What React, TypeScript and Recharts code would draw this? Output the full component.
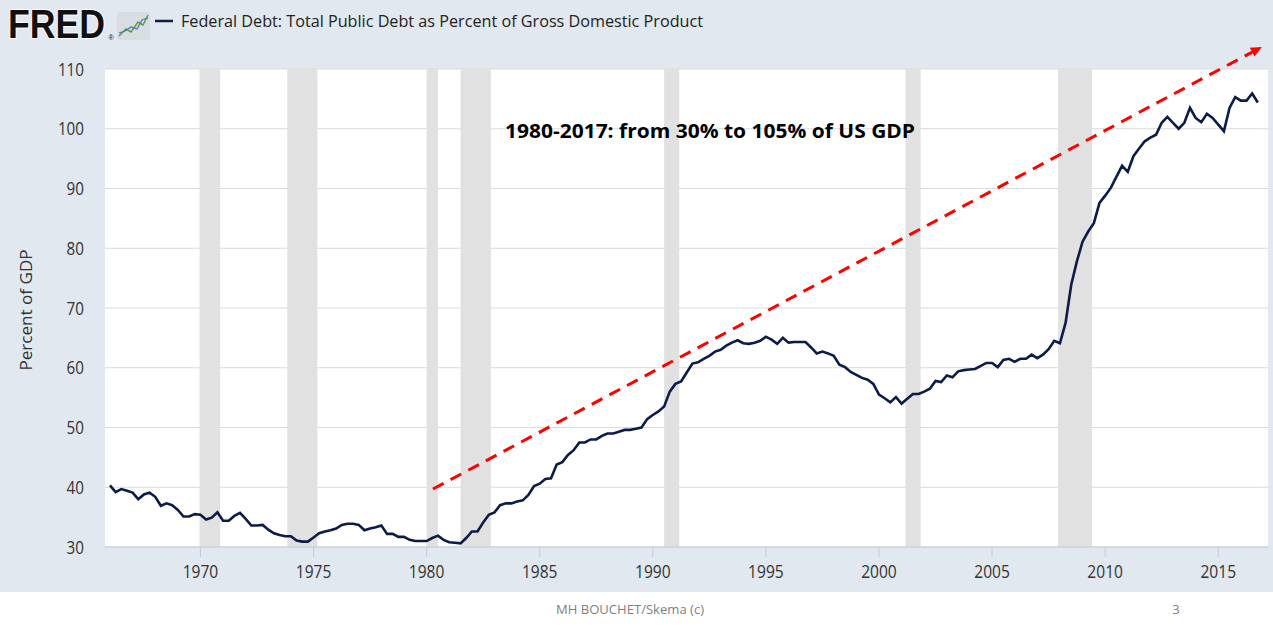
import {
  LineChart,
  Line,
  XAxis,
  YAxis,
  CartesianGrid,
  ReferenceArea,
  ReferenceLine,
} from "recharts";

// Federal debt as % of GDP, quarterly, 1966 Q1 onward
const firstYear = 1966;
const debtPct: number[] = [
  40.3, 39.2, 39.7, 39.4, // 1966
  39.1, 38.0, 38.8, 39.1, // 1967
  38.4, 36.9, 37.3, 37.0, // 1968
  36.2, 35.1, 35.1, 35.5, // 1969
  35.4, 34.6, 34.9, 35.8, // 1970
  34.4, 34.4, 35.2, 35.7, // 1971
  34.7, 33.6, 33.6, 33.7, // 1972
  32.9, 32.3, 32.0, 31.8, // 1973
  31.8, 31.1, 30.9, 30.9, // 1974
  31.6, 32.3, 32.6, 32.8, // 1975
  33.1, 33.7, 33.9, 33.9, // 1976
  33.7, 32.8, 33.1, 33.3, // 1977
  33.6, 32.2, 32.2, 31.7, // 1978
  31.7, 31.2, 31.0, 31.0, // 1979
  31.0, 31.5, 31.9, 31.2, // 1980
  30.8, 30.7, 30.6, 31.5, // 1981
  32.6, 32.6, 34.1, 35.4, // 1982
  35.8, 37.0, 37.3, 37.3, // 1983
  37.6, 37.8, 38.7, 40.2, // 1984
  40.6, 41.4, 41.5, 43.8, // 1985
  44.2, 45.4, 46.2, 47.5, // 1986
  47.5, 48.0, 48.0, 48.6, // 1987
  49.0, 49.0, 49.3, 49.6, // 1988
  49.6, 49.8, 50.0, 51.4, // 1989
  52.1, 52.7, 53.5, 56.0, // 1990
  57.3, 57.7, 59.2, 60.7, // 1991
  60.9, 61.5, 62.0, 62.7, // 1992
  63.0, 63.7, 64.2, 64.6, // 1993
  64.1, 64.0, 64.2, 64.5, // 1994
  65.2, 64.7, 64.0, 65.0, // 1995
  64.2, 64.3, 64.3, 64.3, // 1996
  63.4, 62.4, 62.7, 62.4, // 1997
  62.0, 60.5, 60.1, 59.3, // 1998
  58.8, 58.3, 58.0, 57.3, // 1999
  55.5, 54.9, 54.2, 55.1, // 2000
  54.0, 54.8, 55.6, 55.6, // 2001
  56.0, 56.5, 57.8, 57.6, // 2002
  58.7, 58.4, 59.4, 59.6, // 2003
  59.7, 59.8, 60.3, 60.8, // 2004
  60.8, 60.1, 61.3, 61.5, // 2005
  61.0, 61.5, 61.5, 62.2, // 2006
  61.6, 62.2, 63.1, 64.5, // 2007
  64.1, 67.5, 73.9, 77.8, // 2008
  81.1, 82.8, 84.2, 87.6, // 2009
  88.8, 90.1, 92.0, 93.8, // 2010
  92.8, 95.4, 96.7, 97.9, // 2011
  98.5, 99.0, 101.0, 102.0, // 2012
  101.0, 100.0, 101.0, 103.5, // 2013
  101.8, 101.1, 102.5, 101.8, // 2014
  100.7, 99.6, 103.5, 105.3, // 2015
  104.7, 104.7, 105.9, 104.4, // 2016
];

// NBER recessions (shaded), as fractional years
const recessionStart = [1969.96, 1973.84, 1980.0, 1981.5, 1990.5, 2001.17, 2007.92];
const recessionEnd = [1970.87, 1975.17, 1980.5, 1982.84, 1991.17, 2001.84, 2009.42];

const xTicks = [1970, 1975, 1980, 1985, 1990, 1995, 2000, 2005, 2010, 2015];
const yTicks = [30, 40, 50, 60, 70, 80, 90, 100, 110];

// hand-drawn trend arrow on the slide
const trendFrom = { year: 1980.28, pct: 39.7 };
const trendTo = { year: 2016.93, pct: 113.7 };

const chartData = debtPct.map((v, i) => ({ t: firstYear + i / 4, debt: v }));

const FONT = "'Open Sans', 'Noto Sans', sans-serif";

const XTick = ({ x, payload }: any) => (
  <text
    x={x}
    y={578}
    textAnchor="middle"
    fontSize={18}
    fill="#333"
    fontFamily={FONT}
    textLength={String(payload.value).length * 8.9}
    lengthAdjust="spacingAndGlyphs"
  >
    {payload.value}
  </text>
);

const YTick = ({ y, payload }: any) => (
  <text
    x={84}
    y={y + 6.5}
    textAnchor="end"
    fontSize={17.5}
    fill="#333"
    fontFamily={FONT}
    textLength={String(payload.value).length * 8.7}
    lengthAdjust="spacingAndGlyphs"
  >
    {payload.value}
  </text>
);

const TrendArrow = (props: any) => {
  const { x1, y1, x2, y2 } = props;
  const ang = Math.atan2(y2 - y1, x2 - x1);
  const len = 11;
  const bx = x2 - len * Math.cos(ang);
  const by = y2 - len * Math.sin(ang);
  const px = -Math.sin(ang) * 5;
  const py = Math.cos(ang) * 5;
  return (
    <g>
      <line
        x1={x1}
        y1={y1}
        x2={bx}
        y2={by}
        stroke="#ff0000"
        strokeWidth={3}
        strokeDasharray="12 8"
      />
      <polygon
        points={`${x2},${y2} ${bx + px},${by + py} ${bx - px},${by - py}`}
        fill="#ff0000"
      />
    </g>
  );
};

export default function App() {
  return (
    <div
      style={{
        position: "absolute",
        left: 0,
        top: 0,
        width: 1273,
        height: 641,
        background: "#ffffff",
        overflow: "hidden",
      }}
    >
      <div style={{ position: "absolute", left: 0, top: 0, width: 1273, height: 592, background: "#e1e8ef" }}>
        <LineChart
          width={1273}
          height={592}
          data={chartData}
          margin={{ top: 69, right: 5, bottom: 0, left: 0 }}
        >
          <CartesianGrid vertical={false} stroke="#dadada" fill="#ffffff" />
          <XAxis
            dataKey="t"
            type="number"
            domain={[1965.78, 2017.2]}
            ticks={xTicks}
            allowDataOverflow
            height={45}
            axisLine={{ stroke: "#c3cdd9" }}
            tickLine={{ stroke: "#c3cdd9" }}
            tickSize={10}
            tick={<XTick />}
          />
          <YAxis
            type="number"
            domain={[30, 110]}
            ticks={yTicks}
            width={105}
            axisLine={false}
            tickLine={false}
            tick={<YTick />}
          />
          {recessionStart.map((s, i) => (
            <ReferenceArea
              key={s}
              x1={s}
              x2={recessionEnd[i]}
              fill="#e1e1e1"
              fillOpacity={1}
              stroke="none"
            />
          ))}
          <Line
            type="linear"
            dataKey="debt"
            stroke="#0c1b48"
            strokeWidth={2.6}
            dot={false}
            isAnimationActive={false}
          />
          <ReferenceLine
            segment={[
              { x: trendFrom.year, y: trendFrom.pct },
              { x: trendTo.year, y: trendTo.pct },
            ]}
            ifOverflow="visible"
            shape={TrendArrow}
          />
        </LineChart>
      </div>
      <svg
        width={1273}
        height={641}
        style={{ position: "absolute", left: 0, top: 0, pointerEvents: "none" }}
      >
        {/* FRED logo, squeezed horizontally */}
        <text
          transform="translate(8,38) scale(0.87,1)"
          fontFamily="'Liberation Sans', Arial, sans-serif"
          fontWeight={700}
          fontSize={41}
          fill="#111"
          stroke="#ffffff"
          strokeWidth={2}
          paintOrder="stroke"
        >
          FRED
        </text>
        <text x={108.5} y={40} fontSize={7} fill="#111" fontFamily="'Liberation Sans', sans-serif">®</text>
        <rect x={117} y={12} width={33} height={28} rx={2} fill="#d7dde3" />
        <polyline points="119,36 126,29 131,32 138,22 143,25 148,15" fill="none" stroke="#5f9e3c" strokeWidth={1.5} />
        <polyline points="119,33 125,31 131,27 137,29 142,20 148,18" fill="none" stroke="#4a79b5" strokeWidth={1.3} />
        <line x1={155} y1={21} x2={173} y2={21} stroke="#0c1b48" strokeWidth={2.5} />
        <text
          x={181}
          y={27}
          fontFamily={FONT}
          fontSize={17}
          fill="#222"
          textLength={522}
          lengthAdjust="spacingAndGlyphs"
        >
          Federal Debt: Total Public Debt as Percent of Gross Domestic Product
        </text>
        {/* axis title */}
        <text
          transform="translate(32,310) rotate(-90)"
          textAnchor="middle"
          fontFamily={FONT}
          fontSize={16}
          fill="#333"
          textLength={121}
          lengthAdjust="spacingAndGlyphs"
        >
          Percent of GDP
        </text>
        {/* annotation */}
        <text
          x={505}
          y={138}
          fontFamily={FONT}
          fontWeight={700}
          fontSize={19}
          fill="#000"
          textLength={410}
          lengthAdjust="spacingAndGlyphs"
        >
          1980-2017: from 30% to 105% of US GDP
        </text>
        {/* slide footer */}
        <text
          x={556}
          y={614}
          fontFamily={FONT}
          fontSize={13}
          fill="#7f7f7f"
          textLength={148}
          lengthAdjust="spacingAndGlyphs"
        >
          MH BOUCHET/Skema (c)
        </text>
        <text x={1176} y={614} fontFamily={FONT} fontSize={13} fill="#7f7f7f" textAnchor="middle">
          3
        </text>
      </svg>
    </div>
  );
}
